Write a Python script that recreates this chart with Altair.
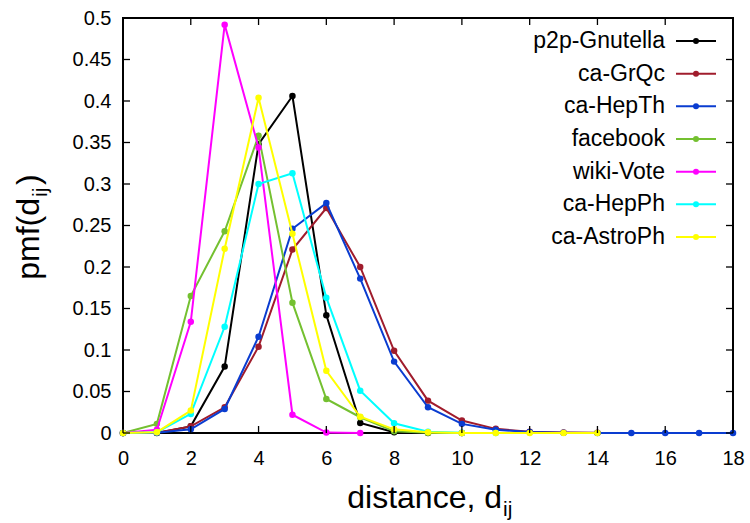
import altair as alt
import pandas as pd

names = ["p2p-Gnutella", "ca-GrQc", "ca-HepTh", "facebook", "wiki-Vote", "ca-HepPh", "ca-AstroPh"]
colors = ["#000000", "#a01c2c", "#0a3cd0", "#74c030", "#ff00ff", "#00ffff", "#ffff00"]

gnutella = [0, 0, 0.008, 0.080, 0.348, 0.406, 0.142, 0.012, 0.001, 0.0001, 0]
grqc = [0, 0.0003, 0.008, 0.031, 0.104, 0.221, 0.271, 0.200, 0.099, 0.039, 0.015, 0.005, 0.0015, 0.0005, 0.0002]
hepth = [0, 0.0002, 0.0044, 0.029, 0.116, 0.246, 0.277, 0.186, 0.086, 0.031, 0.011, 0.004, 0.0012, 0.0004,
         0.0001, 0.00003, 0, 0, 0]
facebook = [0, 0.011, 0.165, 0.243, 0.358, 0.157, 0.041, 0.019, 0.002, 0.0002, 0]
wikivote = [0, 0.004, 0.134, 0.492, 0.344, 0.022, 0.0005, 0]
hepph = [0, 0.001, 0.023, 0.128, 0.300, 0.313, 0.163, 0.051, 0.0117, 0.0016, 0.0002, 0]
astroph = [0, 0.001, 0.027, 0.222, 0.404, 0.240, 0.075, 0.0196, 0.0044, 0.0008, 0.0001, 0, 0, 0, 0]

series = [gnutella, grqc, hepth, facebook, wikivote, hepph, astroph]

x_ticks = [0, 2, 4, 6, 8, 10, 12, 14, 16, 18]
y_ticks = [0, 0.05, 0.1, 0.15, 0.2, 0.25, 0.3, 0.35, 0.4, 0.45, 0.5]

W, H = 610, 415
FONT = "Liberation Sans"

color_scale = alt.Scale(domain=names, range=colors)
xs = alt.Scale(domain=[0, 18], nice=False, zero=False)
ys = alt.Scale(domain=[0, 0.5], nice=False)

x_axis = alt.Axis(values=x_ticks, title=None, ticks=False, tickSize=0, domain=False,
                  grid=False, labelFontSize=20, labelFont=FONT, labelColor="black",
                  labelPadding=15, labelFlush=False)
y_axis = alt.Axis(values=y_ticks, format="~g", title=None, ticks=False, tickSize=0, domain=False,
                  grid=False, labelFontSize=20, labelFont=FONT, labelColor="black",
                  labelPadding=12, labelFlush=False)

layers = []
for nm, vals in zip(names, series):
    df = pd.DataFrame({"d": list(range(len(vals))), "pmf": vals, "name": nm})
    base = alt.Chart(df).encode(
        x=alt.X("d:Q", scale=xs, axis=x_axis),
        y=alt.Y("pmf:Q", scale=ys, axis=y_axis),
        color=alt.Color("name:N", scale=color_scale, legend=None),
    )
    layers.append(base.mark_line(strokeWidth=2, clip=False))
    layers.append(base.mark_circle(size=42, opacity=1, clip=False))

# inward ticks (mirrored on all four sides)
xt = pd.DataFrame({"t": x_ticks})
yt = pd.DataFrame({"t": y_ticks})
tick_bottom = alt.Chart(xt).mark_rule(color="black", strokeWidth=1.3).encode(
    x=alt.X("t:Q", scale=xs, axis=x_axis), y=alt.value(H), y2=alt.value(H - 7))
tick_top = alt.Chart(xt).mark_rule(color="black", strokeWidth=1.3).encode(
    x=alt.X("t:Q", scale=xs, axis=x_axis), y=alt.value(0), y2=alt.value(7))
tick_left = alt.Chart(yt).mark_rule(color="black", strokeWidth=1.3).encode(
    y=alt.Y("t:Q", scale=ys, axis=y_axis), x=alt.value(0), x2=alt.value(7))
tick_right = alt.Chart(yt).mark_rule(color="black", strokeWidth=1.3).encode(
    y=alt.Y("t:Q", scale=ys, axis=y_axis), x=alt.value(W), x2=alt.value(W - 7))

# legend (labels left of samples, gnuplot style), one row per series
legend_layers = []
for i, (nm, col) in enumerate(zip(names, colors)):
    row = pd.DataFrame({"name": [nm]})
    yy = 23 + i * 32.67
    legend_layers.append(alt.Chart(row).mark_rule(strokeWidth=2, color=col).encode(
        y=alt.value(yy), x=alt.value(553), x2=alt.value(593)))
    legend_layers.append(alt.Chart(row).mark_circle(size=36, opacity=1, color=col).encode(
        y=alt.value(yy), x=alt.value(573)))
    legend_layers.append(alt.Chart(row).mark_text(align="right", baseline="middle", fontSize=23,
                                                  font=FONT, color="black").encode(
        y=alt.value(yy), x=alt.value(542), text="name:N"))

# axis titles with subscripts
one = pd.DataFrame({"a": [0]})
xt_main = alt.Chart(one).mark_text(text="distance, d", align="right", baseline="alphabetic",
                                   fontSize=32, font=FONT, color="black").encode(
    x=alt.value(379), y=alt.value(490))
xt_sub = alt.Chart(one).mark_text(text="ij", align="left", baseline="alphabetic",
                                  fontSize=21, font=FONT, color="black").encode(
    x=alt.value(380), y=alt.value(498))
yt_main = alt.Chart(one).mark_text(text="pmf(d", align="right", baseline="alphabetic", angle=270,
                                   fontSize=32, font=FONT, color="black").encode(
    x=alt.value(-84), y=alt.value(180))
yt_sub = alt.Chart(one).mark_text(text="ij", align="left", baseline="alphabetic", angle=270,
                                  fontSize=21, font=FONT, color="black").encode(
    x=alt.value(-76), y=alt.value(179))
yt_close = alt.Chart(one).mark_text(text=")", align="left", baseline="alphabetic", angle=270,
                                    fontSize=32, font=FONT, color="black").encode(
    x=alt.value(-84), y=alt.value(167))

chart = alt.layer(
    *layers, tick_bottom, tick_top, tick_left, tick_right,
    *legend_layers,
    xt_main, xt_sub, yt_main, yt_sub, yt_close,
).properties(
    width=W, height=H,
    autosize=alt.AutoSizeParams(type="none"),
    padding={"left": 123, "top": 18, "right": 17, "bottom": 90},
    background="white",
).configure_view(stroke="black", strokeWidth=2)

chart.save("out.html", embed_options={"renderer": "svg", "actions": False})
